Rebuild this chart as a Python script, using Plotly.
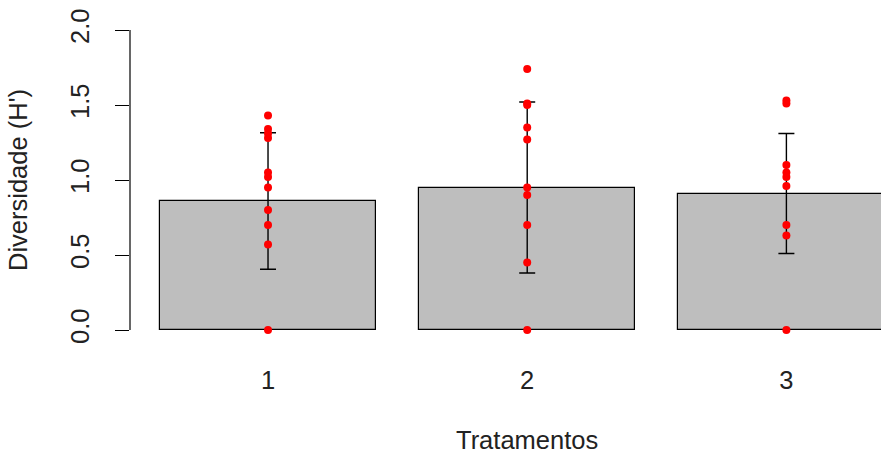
import plotly.graph_objects as go

# Treatment groups and their bar positions (barplot layout: width 1, space 0.2)
tratamentos = ["1", "2", "3"]
posicoes = [0.7, 1.9, 3.1]

# Mean Shannon diversity per treatment and the error-bar half-widths
media_h = [0.86, 0.95, 0.91]
erro_h = [0.455, 0.57, 0.40]

# Individual sample values per treatment
amostras_1 = [1.43, 1.34, 1.31, 1.28, 1.05, 1.02, 0.95, 0.80, 0.70, 0.57, 0.0]
amostras_2 = [1.74, 1.51, 1.50, 1.35, 1.27, 0.95, 0.90, 0.70, 0.45, 0.0]
amostras_3 = [1.53, 1.51, 1.10, 1.05, 1.02, 0.96, 0.70, 0.63, 0.0]
amostras = [amostras_1, amostras_2, amostras_3]

y_ticks = [0.0, 0.5, 1.0, 1.5, 2.0]
y_ticktext = ["0.0", "0.5", "1.0", "1.5", "2.0"]

FONT = "Liberation Sans, Arial, sans-serif"
FSIZE = 25.5
TXT = "#222"

fig = go.Figure()

fig.add_trace(go.Bar(
    x=posicoes, y=media_h, width=1.0,
    marker=dict(color="#BEBEBE", line=dict(color="black", width=1.2)),
    showlegend=False, hoverinfo="skip",
))

# Error bars drawn on an invisible marker at each bar centre
fig.add_trace(go.Scatter(
    x=posicoes, y=media_h, mode="markers",
    marker=dict(size=1, opacity=0),
    error_y=dict(type="data", array=erro_h, visible=True,
                 color="black", thickness=1.4, width=8),
    showlegend=False, hoverinfo="skip",
))

# Raw points over the bars
for pos, vals in zip(posicoes, amostras):
    fig.add_trace(go.Scatter(
        x=[pos] * len(vals), y=vals, mode="markers",
        marker=dict(color="red", size=8, line=dict(width=0)),
        showlegend=False,
    ))

# Y axis line spanning only the labelled range
fig.add_shape(type="line", xref="paper", yref="y",
              x0=0, x1=0, y0=y_ticks[0], y1=y_ticks[-1],
              line=dict(color="black", width=1.2))

# X axis title, centred on the full barplot extent (0.06 .. 3.74)
fig.add_annotation(
    text="Tratamentos", xref="x", x=1.9, yref="paper", y=-0.302,
    xanchor="center", yanchor="middle", showarrow=False,
    font=dict(family=FONT, size=FSIZE, color=TXT),
)

fig.update_layout(
    width=881, height=455,
    margin=dict(l=130, r=0, t=18, b=113),
    plot_bgcolor="white", paper_bgcolor="white",
    font=dict(family=FONT, size=FSIZE, color=TXT),
    bargap=0,
    xaxis=dict(
        range=[0.061, 3.538],
        tickvals=posicoes, ticktext=tratamentos,
        ticks="", showline=False, showgrid=False, zeroline=False,
        ticklabelstandoff=20,
        tickfont=dict(family=FONT, size=FSIZE, color=TXT),
    ),
    yaxis=dict(
        range=[-0.08, 2.08],
        tickvals=y_ticks, ticktext=y_ticktext,
        ticks="outside", ticklen=14, tickwidth=1.2, tickcolor="black",
        tickangle=-90,
        showline=False, showgrid=False, zeroline=False,
        ticklabelstandoff=16,
        tickfont=dict(family=FONT, size=FSIZE, color=TXT),
        title=dict(text="Diversidade (H')", standoff=30,
                   font=dict(family=FONT, size=FSIZE, color=TXT)),
    ),
)

fig.write_html("out.html")
